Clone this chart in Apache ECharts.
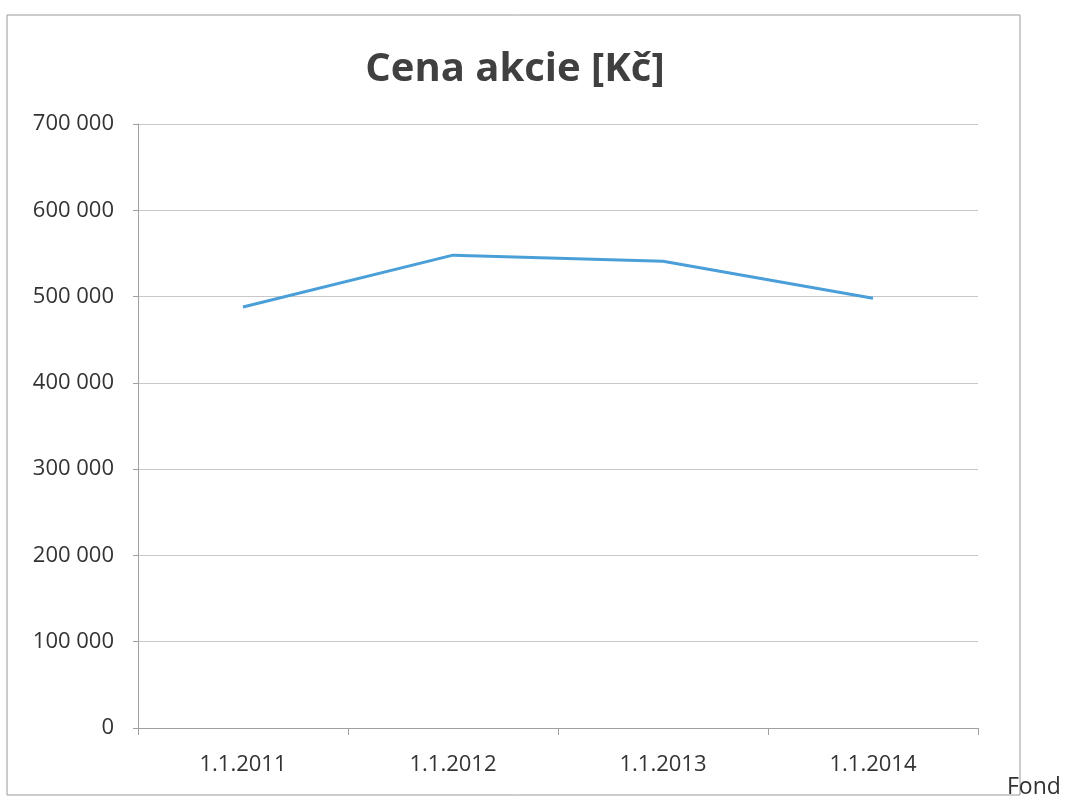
<!DOCTYPE html>
<html>
<head>
<meta charset="utf-8">
<script src="https://cdn.jsdelivr.net/npm/echarts@6/dist/echarts.min.js"></script>
<style>
  html, body { margin: 0; padding: 0; background: #fff; }
  #main { width: 1068px; height: 800px; }
</style>
</head>
<body>
<div id="main"></div>
<script>
// data
var categories = ["1.1.2011", "1.1.2012", "1.1.2013", "1.1.2014"];
var cenaAkcie = [488000, 548000, 541000, 498000];
var yTicks = [0, 100000, 200000, 300000, 400000, 500000, 600000, 700000];

var myChart = echarts.init(document.getElementById("main"));

function fmt(v) {
  // mezery jako oddělovač tisíců
  return String(v).replace(/\B(?=(\d{3})+(?!\d))/g, " ");
}

myChart.setOption({
  animation: false,
  title: {
    text: "Cena akcie [Kč]",
    left: 510,
    top: 45,
    textAlign: "center",
    textStyle: {
      fontFamily: "Open Sans",
      fontSize: 40,
      fontWeight: "bold",
      color: "#404040"
    }
  },
  graphic: [
    {
      type: "rect",
      shape: { x: 7, y: 15, width: 1013, height: 780 },
      style: { fill: "none", stroke: "#9a9a9a", lineWidth: 1 },
      silent: true
    },
    {
      type: "text",
      left: 1007,
      top: 776,
      style: { text: "Fond", font: "23px 'Open Sans'", fill: "#333" }
    }
  ],
  grid: {
    left: 138,
    right: 90,
    top: 124,
    bottom: 72
  },
  xAxis: {
    type: "category",
    data: categories,
    boundaryGap: true,
    axisLine: { lineStyle: { color: "#a0a0a0", width: 1 } },
    axisTick: { show: true, length: 7, lineStyle: { color: "#a0a0a0" } },
    axisLabel: {
      margin: 26,
      fontFamily: "Open Sans",
      fontSize: 22,
      color: "#333"
    }
  },
  yAxis: {
    type: "value",
    min: yTicks[0],
    max: yTicks[yTicks.length - 1],
    interval: 100000,
    axisLine: { show: true, lineStyle: { color: "#a0a0a0", width: 1 } },
    axisTick: { show: true, inside: false, length: 5, lineStyle: { color: "#a0a0a0" } },
    splitLine: { show: true, lineStyle: { color: "#c8c8c8", width: 1 } },
    axisLabel: {
      margin: 24,
      fontFamily: "Open Sans",
      fontSize: 22,
      color: "#333",
      formatter: function (v) { return fmt(v); }
    }
  },
  series: [
    {
      name: "Cena akcie",
      type: "line",
      data: cenaAkcie,
      color: "#4a9fd8",
      symbol: "none",
      lineStyle: { width: 3, color: "#4a9fd8" }
    }
  ]
});
</script>
</body>
</html>
